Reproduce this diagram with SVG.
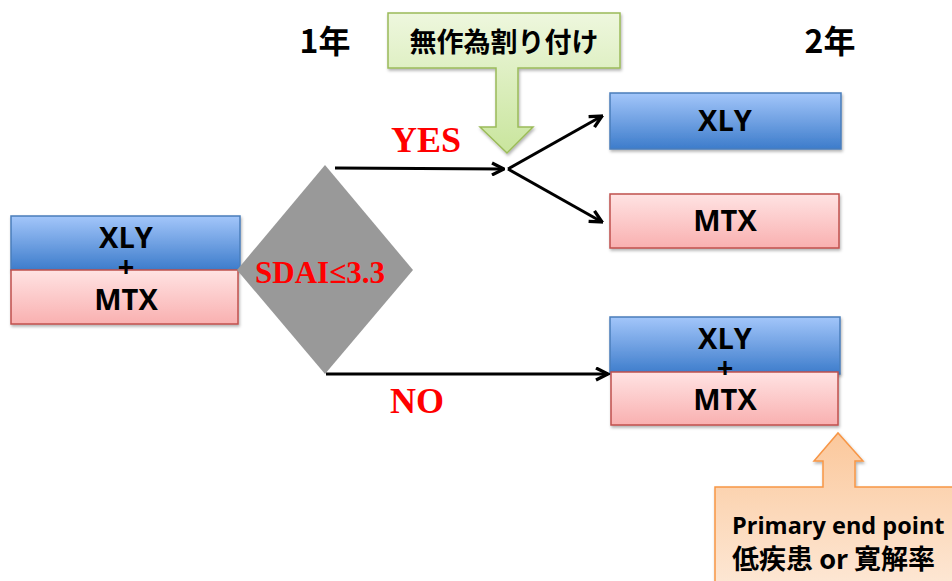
<svg xmlns="http://www.w3.org/2000/svg" width="952" height="581" viewBox="0 0 952 581">
<defs>
<linearGradient id="gBlue" x1="0" y1="0" x2="0" y2="1"><stop offset="0" stop-color="#a3c6fa"/><stop offset="1" stop-color="#3d7ccb"/></linearGradient>
<linearGradient id="gPink" x1="0" y1="0" x2="0" y2="1"><stop offset="0" stop-color="#ffe3e3"/><stop offset="1" stop-color="#f9b0b0"/></linearGradient>
<linearGradient id="gGreen" x1="0" y1="0" x2="0" y2="1"><stop offset="0" stop-color="#eef7de"/><stop offset="1" stop-color="#c9e59d"/></linearGradient>
<linearGradient id="gOrange" x1="0" y1="0" x2="0" y2="1"><stop offset="0" stop-color="#fbc89c"/><stop offset="1" stop-color="#fde8d6"/></linearGradient>
<filter id="sh" x="-10%" y="-10%" width="120%" height="130%"><feDropShadow dx="1" dy="2" stdDeviation="1.5" flood-color="#000" flood-opacity="0.3"/></filter>
<marker id="arr" viewBox="0 0 10 10" refX="9" refY="5" markerWidth="15" markerHeight="15" orient="auto" markerUnits="userSpaceOnUse"><path d="M1,1 L9,5 L1,9" fill="none" stroke="#000" stroke-width="2.2"/></marker>
</defs>
<style>
.blue{fill:url(#gBlue);stroke:#4a7ebb;stroke-width:1.5;filter:url(#sh)}
.pink{fill:url(#gPink);stroke:#c0504d;stroke-width:1.5;filter:url(#sh)}
.bt{font-family:"Open Sans","Liberation Sans",sans-serif;font-weight:bold;font-size:29px;fill:#000;text-anchor:middle}
.red{font-family:"Liberation Serif",serif;font-weight:bold;fill:#ff0000}
.yr{font-family:"Noto Sans CJK JP","Liberation Sans",sans-serif;font-weight:bold;font-size:32px;fill:#000;text-anchor:middle}
.conn{stroke:#000;stroke-width:3;fill:none}
</style>
<text class="yr" x="325" y="53">1年</text>
<text class="yr" x="830" y="53">2年</text>
<g id="start">
<rect class="blue" x="11" y="216" width="229" height="54"/>
<rect class="pink" x="11" y="270" width="227" height="54"/>
<text class="bt" x="126" y="248">XLY</text>
<text class="bt" x="126" y="277">+</text>
<text class="bt" x="126" y="310">MTX</text>
</g>
<g id="decision">
<polygon points="325,165 413,270 325,374 237,270" fill="#999999"/>
<text class="red" x="320" y="283" font-size="31" text-anchor="middle">SDAI≤3.3</text>
</g>
<g id="random">
<path d="M388,13 H620 V68 H518 V127 H533 L507,153 L480,127 H496 V68 H388 Z" fill="url(#gGreen)" stroke="#9bbb59" stroke-width="1.5" filter="url(#sh)"/>
<text x="504" y="52" font-family="Noto Sans CJK JP,sans-serif" font-weight="bold" font-size="27" text-anchor="middle" fill="#000">無作為割り付け</text>
</g>
<g id="xly2">
<rect class="blue" x="610" y="93" width="231" height="56"/>
<text class="bt" x="725" y="131">XLY</text>
</g>
<g id="mtx2">
<rect class="pink" x="610" y="194" width="229" height="54"/>
<text class="bt" x="725" y="231">MTX</text>
</g>
<g id="combo2">
<rect class="blue" x="610" y="317" width="230" height="57"/>
<rect class="pink" x="611" y="372" width="227" height="53"/>
<text class="bt" x="725" y="349">XLY</text>
<text class="bt" x="725" y="378">+</text>
<text class="bt" x="725" y="410">MTX</text>
</g>
<g id="endpoint">
<path d="M715,487 H823 V461 H814 L838,433 L863,461 H855 V487 H960 V590 H715 Z" fill="url(#gOrange)" stroke="#f79646" stroke-width="1.5" filter="url(#sh)"/>
<text x="732" y="534" font-family="Open Sans,Liberation Sans,sans-serif" font-weight="bold" font-size="23.5" fill="#000">Primary end point</text>
<text x="732" y="569" font-family="Noto Sans CJK JP,sans-serif" font-weight="bold" font-size="27" fill="#000">低疾患 or 寛解率</text>
</g>
<g id="connectors">
<line class="conn" x1="335" y1="168" x2="504" y2="169" marker-end="url(#arr)"/>
<line class="conn" x1="508" y1="169" x2="602" y2="116" marker-end="url(#arr)"/>
<line class="conn" x1="508" y1="169" x2="602" y2="222" marker-end="url(#arr)"/>
<line class="conn" x1="326" y1="374" x2="608" y2="374" marker-end="url(#arr)"/>
<text class="red" x="391" y="152" font-size="36">YES</text>
<text class="red" x="390" y="413" font-size="36">NO</text>
</g>
</svg>
